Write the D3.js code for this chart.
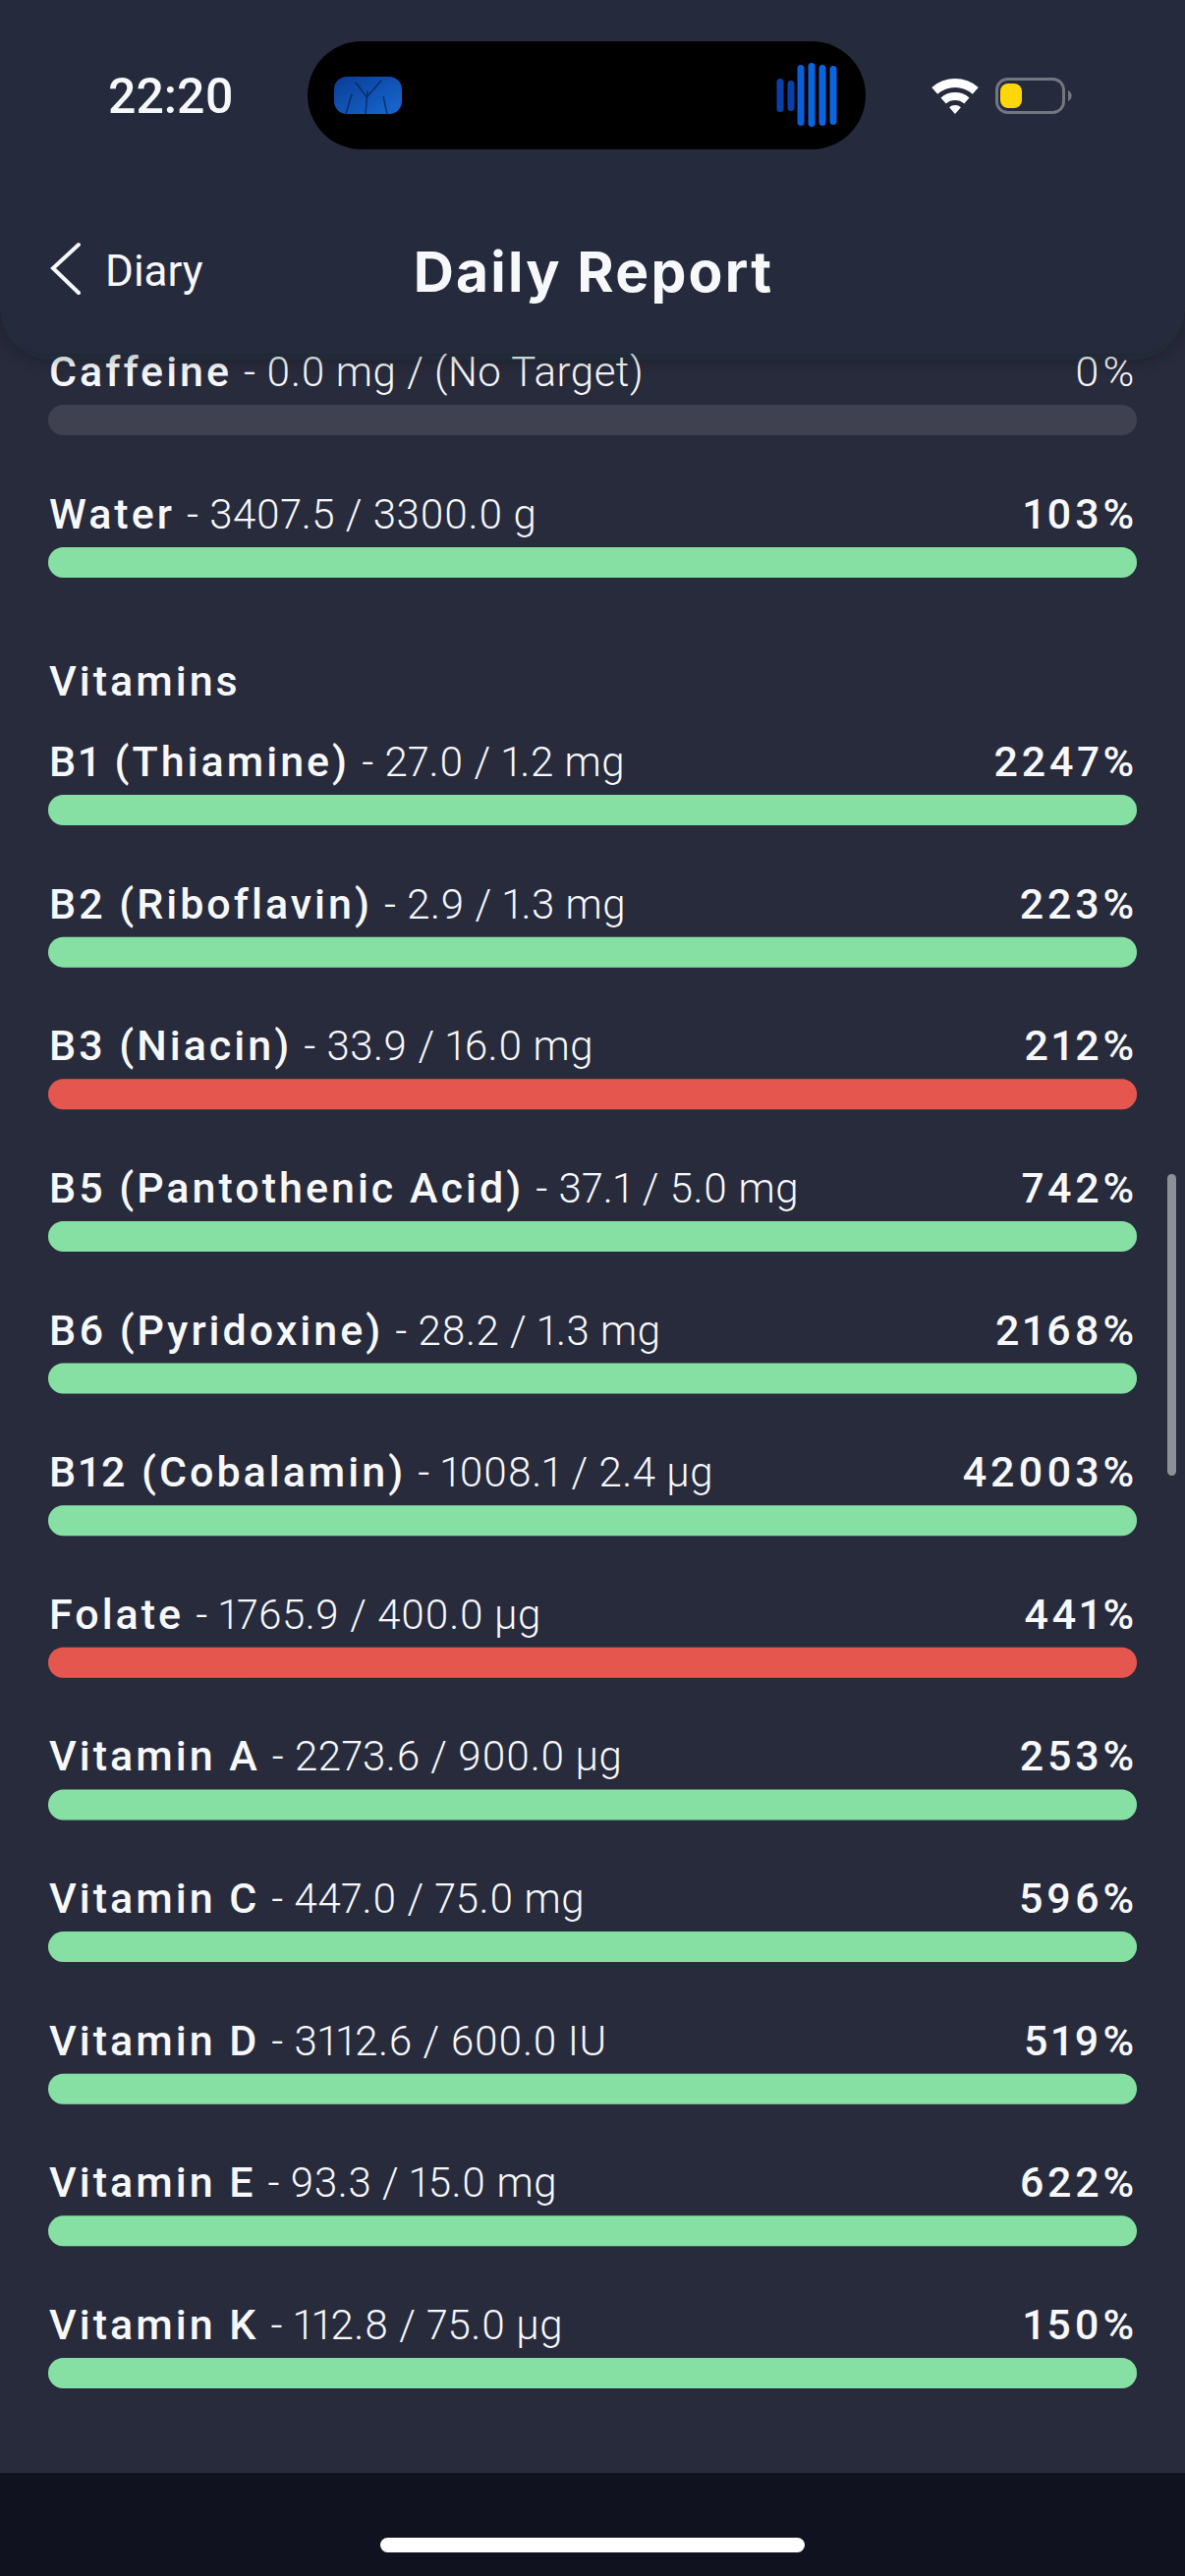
<!DOCTYPE html>
<html>
<head>
<meta charset="utf-8">
<title>Daily Report</title>
<script src="https://cdn.jsdelivr.net/npm/d3@7"></script>
<style>
	html, body { margin: 0; padding: 0; background: #282b3c; }
	svg { display: block; }
	text { font-family: Roboto, sans-serif; fill: #f7f8fa; font-variant-numeric: proportional-nums; }
	.name { font-weight: 500; font-size: 43px; letter-spacing: 3px; }
	.detail { font-weight: 300; font-size: 42px; letter-spacing: 0.5px; }
	.pct { font-weight: 500; font-size: 43px; letter-spacing: 3.8px; }
	.pct.none { font-weight: 300; }
</style>
</head>
<body>
<svg id="chart" width="1206" height="2622"></svg>
<script>
// general rows
const topNames = ['Caffeine', 'Water']
const topDetails = ['0.0 mg / (No Target)', '3407.5 / 3300.0 g']
const topPct = [0, 103]
const topStatus = ['none', 'ok']

// vitamins
const vitNames = ['B1 (Thiamine)', 'B2 (Riboflavin)', 'B3 (Niacin)', 'B5 (Pantothenic Acid)',
	'B6 (Pyridoxine)', 'B12 (Cobalamin)', 'Folate', 'Vitamin A',
	'Vitamin C', 'Vitamin D', 'Vitamin E', 'Vitamin K']
const vitDetails = ['27.0 / 1.2 mg', '2.9 / 1.3 mg', '33.9 / 16.0 mg', '37.1 / 5.0 mg',
	'28.2 / 1.3 mg', '1008.1 / 2.4 µg', '1765.9 / 400.0 µg', '2273.6 / 900.0 µg',
	'447.0 / 75.0 mg', '3112.6 / 600.0 IU', '93.3 / 15.0 mg', '112.8 / 75.0 µg']
const vitPct = [2247, 223, 212, 742, 2168, 42003, 441, 253, 596, 519, 622, 150]
const vitStatus = ['ok', 'ok', 'over', 'ok', 'ok', 'ok', 'over', 'ok', 'ok', 'ok', 'ok', 'ok']

const W = 1206, H = 2622
const barH = 31

const svg = d3.select('#chart')

const x = d3.scaleLinear().domain([0, 100]).range([49, 1157]).clamp(true)
const color = d3.scaleOrdinal().domain(['ok', 'over', 'none']).range(['#86e0a3', '#e5564e', '#3f4150'])
const yTop = d3.scalePoint().domain(topNames).range([412, 557])
const yVit = d3.scalePoint().domain(vitNames).range([809, 2400])

const defs = svg.append('defs')
defs.append('filter').attr('id', 'headShadow')
	.attr('x', '-5%').attr('y', '-5%').attr('width', '110%').attr('height', '120%')
	.append('feDropShadow')
	.attr('dx', 0).attr('dy', 6).attr('stdDeviation', 10)
	.attr('flood-color', '#11131f').attr('flood-opacity', 0.3)
const thumb = defs.append('linearGradient').attr('id', 'thumb')
	.attr('x1', 0).attr('y1', 0).attr('x2', 1).attr('y2', 1)
thumb.append('stop').attr('offset', '0%').attr('stop-color', '#0a3c96')
thumb.append('stop').attr('offset', '100%').attr('stop-color', '#1769d2')

svg.append('rect').attr('width', W).attr('height', H).attr('fill', '#282b3c')

function drawRows(rows, y) {
	const g = svg.append('g').selectAll('g')
		.data(rows)
		.enter()
		.append('g')

	g.append('rect')
		.attr('x', x(0))
		.attr('y', d => y(d.name))
		.attr('width', x(100) - x(0))
		.attr('height', barH)
		.attr('rx', barH / 2)
		.attr('fill', color('none'))

	g.append('rect')
		.attr('x', x(0))
		.attr('y', d => y(d.name))
		.attr('width', d => x(d.pct) - x(0))
		.attr('height', barH)
		.attr('rx', barH / 2)
		.attr('fill', d => color(d.status))

	const label = g.append('text')
		.attr('x', 50)
		.attr('y', d => y(d.name) - 19)
	label.append('tspan').attr('class', 'name').text(d => d.name)
	label.append('tspan').attr('class', 'detail').attr('dx', 12).text(d => '- ' + d.detail)

	g.append('text')
		.attr('class', d => 'pct ' + d.status)
		.attr('x', 1158)
		.attr('y', d => y(d.name) - 19)
		.attr('text-anchor', 'end')
		.text(d => d.pct + '%')
}

drawRows(topNames.map((n, i) => ({name: n, detail: topDetails[i], pct: topPct[i], status: topStatus[i]})), yTop)
drawRows(vitNames.map((n, i) => ({name: n, detail: vitDetails[i], pct: vitPct[i], status: vitStatus[i]})), yVit)

svg.append('text').attr('class', 'name').attr('x', 50).attr('y', 708).text('Vitamins')

// scrollbar
svg.append('rect').attr('x', 1188).attr('y', 1195).attr('width', 9).attr('height', 307)
	.attr('rx', 4.5).attr('fill', '#8e9099')

// bottom bar
svg.append('rect').attr('x', 0).attr('y', 2517).attr('width', W).attr('height', H - 2517).attr('fill', '#10121f')
svg.append('rect').attr('x', 387).attr('y', 2583).attr('width', 432).attr('height', 15)
	.attr('rx', 7.5).attr('fill', '#fff')

// header
const head = svg.append('g')
head.append('path')
	.attr('d', `M0,0H${W}V310a50,50 0 0 1 -50,50H50a50,50 0 0 1 -50,-50Z`)
	.attr('fill', '#282b3c')
	.attr('filter', 'url(#headShadow)')
head.append('path')
	.attr('d', 'M80,249L54,273L80,298')
	.attr('fill', 'none').attr('stroke', '#f7f8fa').attr('stroke-width', 4).attr('stroke-linecap', 'round')
head.append('text').attr('x', 107).attr('y', 291)
	.style('font-size', '44px').style('font-weight', 400).text('Diary')
head.append('text').attr('x', 604).attr('y', 297).attr('text-anchor', 'middle')
	.style('font-family', 'Inter, sans-serif')
	.style('font-size', '57px').style('font-weight', 700).style('letter-spacing', '2.2px').text('Daily Report')

// status bar
const status = svg.append('g')
status.append('text').attr('x', 110).attr('y', 115)
	.style('font-size', '50px').style('font-weight', 500).text('22:20')
status.append('rect').attr('x', 313).attr('y', 42).attr('width', 568).attr('height', 110)
	.attr('rx', 55).attr('fill', '#000')
status.append('rect').attr('x', 340).attr('y', 78).attr('width', 69).attr('height', 38)
	.attr('rx', 13).attr('fill', 'url(#thumb)')
// dark branches in the album thumbnail
status.append('path')
	.attr('d', 'M372,116L374,92M374,100L362,84M374,98L388,82M352,116L358,96M394,116L390,98')
	.attr('fill', 'none').attr('stroke', '#06204f').attr('stroke-width', 1.5).attr('opacity', 0.7)

const eqX = [794, 805, 815, 826, 837, 848]
const eqTop = [80, 82, 66, 64, 66, 67]
const eqBottom = [114, 113, 128, 129, 128, 127]
const eqFill = ['#0a3fa8', '#0a3fa8', '#0a5fd8', '#0a66e0', '#0a66e0', '#0a66e0']
status.selectAll('.eq').data(eqX).enter().append('rect')
	.attr('class', 'eq')
	.attr('x', d => d - 3.5).attr('width', 7)
	.attr('y', (d, i) => eqTop[i]).attr('height', (d, i) => eqBottom[i] - eqTop[i])
	.attr('rx', 3.5).attr('fill', (d, i) => eqFill[i])

const wifi = d3.arc().startAngle(-0.72).endAngle(0.72)
const wifiBands = [[27, 36], [14, 22], [0, 9]]
status.selectAll('.wifi').data(wifiBands).enter().append('path')
	.attr('class', 'wifi')
	.attr('transform', 'translate(972,116)')
	.attr('d', d => wifi({innerRadius: d[0], outerRadius: d[1]}))
	.attr('fill', '#fff')

status.append('rect').attr('x', 1014.5).attr('y', 80.5).attr('width', 68).attr('height', 34)
	.attr('rx', 11).attr('fill', 'none').attr('stroke', '#73757f').attr('stroke-width', 3)
status.append('rect').attr('x', 1018).attr('y', 85).attr('width', 22).attr('height', 25)
	.attr('rx', 8).attr('fill', '#ffd60a')
status.append('path').attr('d', 'M1087,92a6,6 0 0 1 0,11Z').attr('fill', '#73757f')
</script>
</body>
</html>
